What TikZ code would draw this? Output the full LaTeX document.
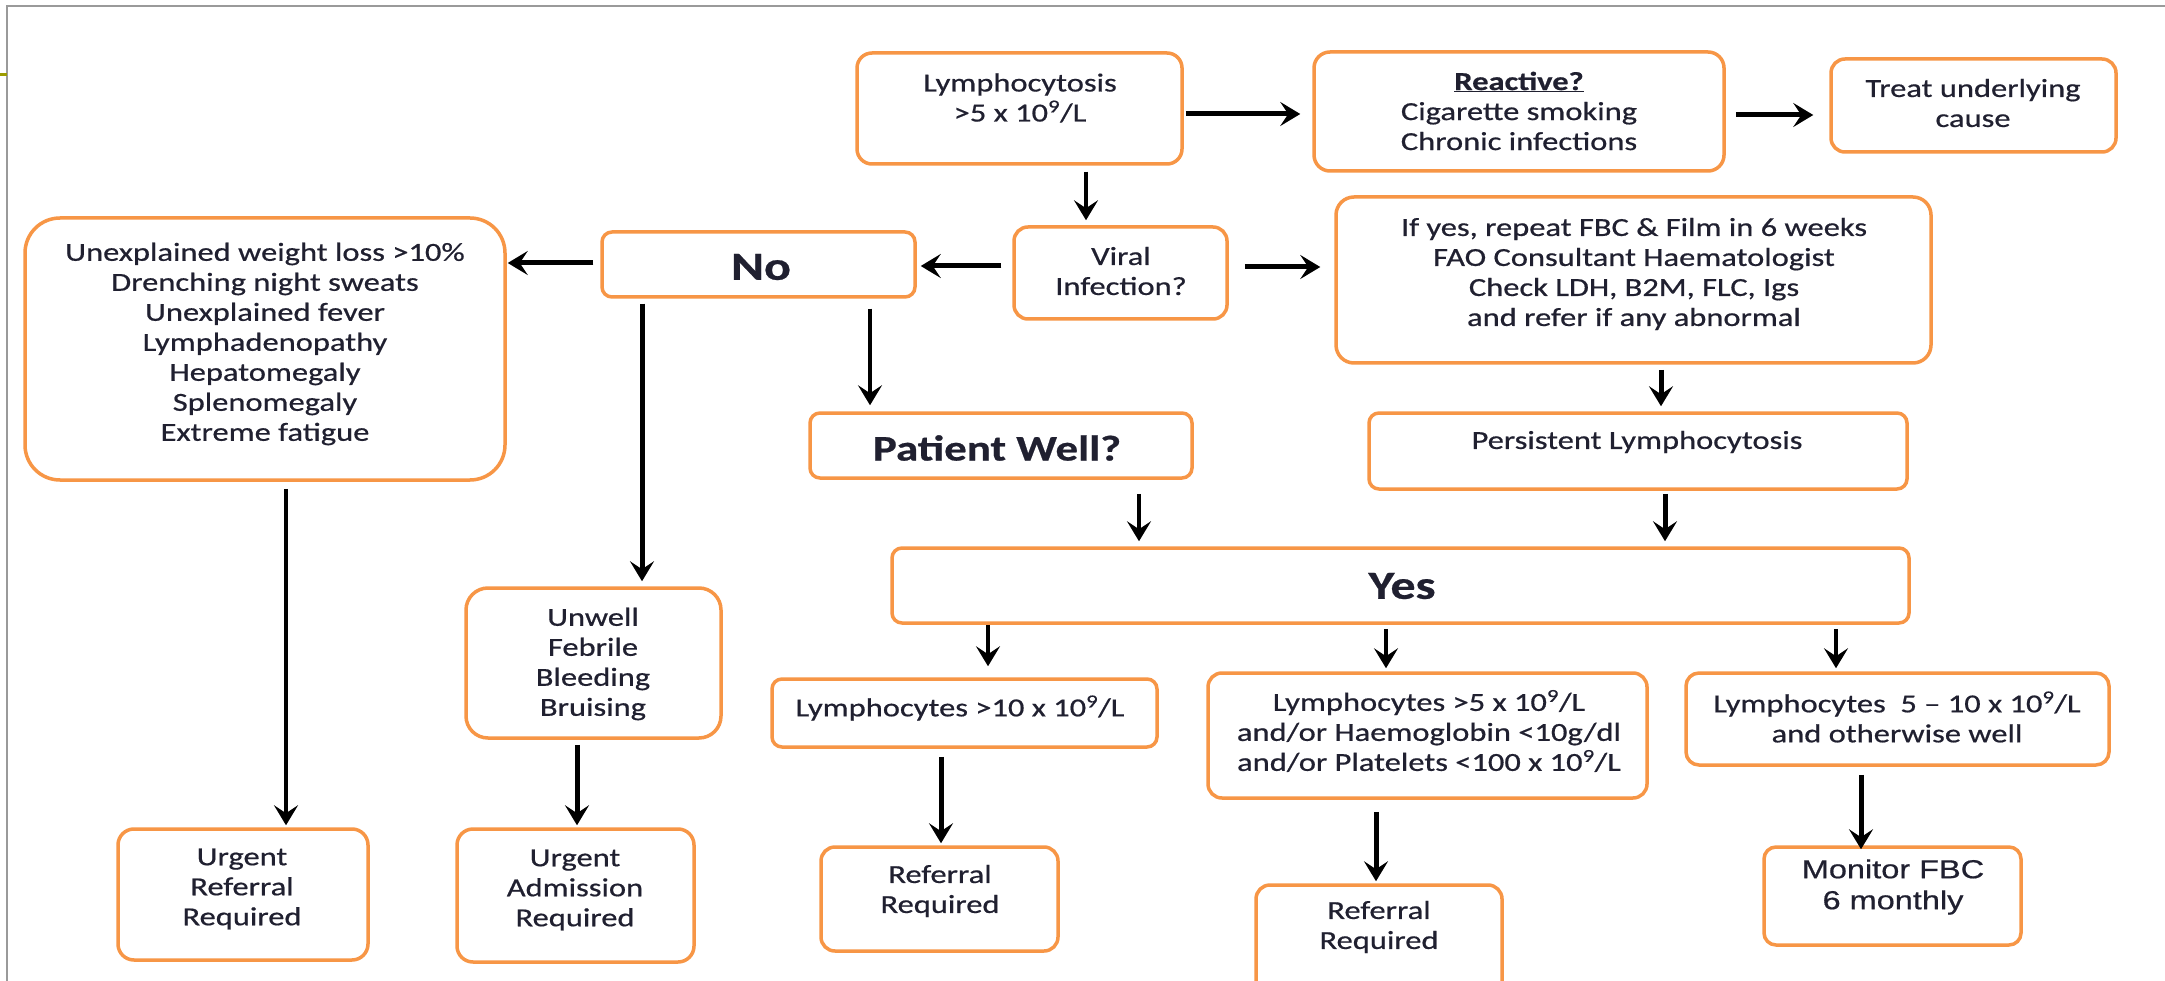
\documentclass[tikz,border=0pt]{standalone}
\usepackage{fontspec}
\setmainfont{Carlito}[FakeStretch=1.25,FakeBold=0.6]
\newfontfamily\arialf{Liberation Sans}[FakeStretch=1.25,FakeBold=0.6]
\usetikzlibrary{arrows.meta}
\definecolor{boxc}{HTML}{F79646}
\definecolor{txtc}{HTML}{202030}
\definecolor{framec}{HTML}{9A9A9A}
\definecolor{olivec}{HTML}{9C9C00}
\tikzset{
  box/.style={draw=boxc, line width=3.5pt, rounded corners=#1pt, inner sep=0pt, fill=white},
  box/.default=14,
  txt/.style={align=center, font=\fontsize{26}{30}\selectfont, text=txtc, inner sep=0pt},
  bigtxt/.style={font=\fontsize{40}{44}\selectfont\bfseries},
  arr/.style={draw=black, line width=5pt, -{Stealth[length=20pt,width=24pt,inset=8pt]}},
  arrthin/.style={line width=3.5pt},
}
\newcommand\fcbox[6]{\node[box=#6, minimum width={#4-#2}, minimum height={#5-#3}] (#1) at ({(#2+#4)/2},{(#3+#5)/2}) {};}
\begin{document}
\begin{tikzpicture}[x=1pt,y=-1pt]
\useasboundingbox (0,0) rectangle (2165,981);
\fill[white] (0,0) rectangle (2165,981);
% frame
\draw[framec, line width=2pt] (7,981) -- (7,6) -- (2165,6);
\draw[olivec, line width=3pt] (0,75) -- (7,75);
% boxes
\fcbox{lym}{857}{53}{1182}{164}{15}
\fcbox{rea}{1314}{52}{1724}{171}{16}
\fcbox{trt}{1831}{59}{2116}{152}{14}
\fcbox{vir}{1014}{227}{1227}{319}{14}
\fcbox{no}{602}{232}{915}{297}{10}
\fcbox{sym}{25}{218}{505}{480}{35}
\fcbox{ify}{1336}{197}{1931}{363}{18}
\fcbox{pw}{810}{413}{1192}{478}{10}
\fcbox{per}{1369}{413}{1907}{489}{10}
\fcbox{yes}{892}{548}{1909}{623}{10}
\fcbox{unw}{466}{588}{721}{738}{22}
\fcbox{lten}{772}{679}{1157}{747}{10}
\fcbox{mid}{1208}{673}{1647}{798}{14}
\fcbox{rgt}{1686}{673}{2109}{765}{13}
\fcbox{urf}{118}{829}{368}{960}{16}
\fcbox{uad}{457}{829}{694}{962}{16}
\fcbox{refa}{821}{847}{1058}{951}{14}
\fcbox{refb}{1256}{885}{1502}{1000}{14}
\fcbox{mon}{1764}{847}{2021}{945}{12}
% texts
\node[txt] (lymT) at (1020,98) {Lymphocytosis\\>5 x 10\textsuperscript{9}/L};
\node[txt] (reaT) at (1519,111) {\underline{\textbf{Reactive?}}\\Cigarette smoking\\Chronic infections};
\node[txt] (trtT) at (1973,103) {Treat underlying\\cause};
\node[txt] (virT) at (1121,271) {Viral\\Infection?};
\node[txt,bigtxt] (noT) at (761,267) {No};
\node[txt] (symT) at (265,344) {Unexplained weight loss >10\%\\Drenching night sweats\\Unexplained fever\\Lymphadenopathy\\Hepatomegaly\\Splenomegaly\\Extreme fatigue};
\node[txt] (ifyT) at (1634,274) {If yes, repeat FBC \& Film in 6 weeks\\FAO Consultant Haematologist\\Check LDH, B2M, FLC, Igs\\and refer if any abnormal};
\node[txt, font=\fontsize{36}{40}\selectfont\bfseries] (pwT) at (997,448) {Patient Well?};
\node[txt] (perT) at (1637,442) {Persistent Lymphocytosis};
\node[txt,bigtxt] (yesT) at (1402,586) {Yes};
\node[txt] (unwT) at (593,664) {Unwell\\Febrile\\Bleeding\\Bruising};
\node[txt] (ltenT) at (960,708) {Lymphocytes >10 x 10\textsuperscript{9}/L};
\node[txt] (midT) at (1429,731) {Lymphocytes >5 x 10\textsuperscript{9}/L\\and/or Haemoglobin <10g/dl\\and/or Platelets <100 x 10\textsuperscript{9}/L};
\node[txt] (rgtT) at (1897,717) {Lymphocytes\ \ 5 -- 10 x 10\textsuperscript{9}/L\\and otherwise well};
\node[txt] (urfT) at (242,889) {Urgent\\Referral\\Required};
\node[txt] (uadT) at (575,890) {Urgent\\Admission\\Required};
\node[txt] (refaT) at (940,891) {Referral\\Required};
\node[txt] (refbT) at (1379,927) {Referral\\Required};
\node[txt, font=\arialf\fontsize{26}{31}\selectfont] (monT) at (1893,887) {Monitor FBC\\6 monthly};
% lanes
\coordinate (ya1) at (0,114);
\coordinate (ya2) at (0,115);
\coordinate (ya4) at (0,266);
\coordinate (ya5) at (0,263);
\coordinate (ya6) at (0,267);
\coordinate (xa3) at (1086,0);
\coordinate (xa7) at (870,0);
\coordinate (xa8) at (642,0);
\coordinate (xa9) at (286,0);
\coordinate (xa10) at (577,0);
\coordinate (xa11) at (1661,0);
\coordinate (xa12) at (1139,0);
\coordinate (xa13) at (1665,0);
\coordinate (xa14) at (988,0);
\coordinate (xa15) at (1386,0);
\coordinate (xa16) at (1836,0);
\coordinate (xa17) at (941,0);
\coordinate (xa18) at (1376,0);
\coordinate (xa19) at (1861,0);
% arrows
\draw[arr, shorten <=2pt, shorten >=12pt] (lym.east |- ya1) -- (rea.west |- ya1);
\draw[arr, shorten <=10pt, shorten >=16pt] (rea.east |- ya2) -- (trt.west |- ya2);
\draw[arr, arrthin, shorten <=6pt, shorten >=5pt] (lym.south -| xa3) -- (vir.north -| xa3);
\draw[arr, shorten <=11pt, shorten >=4pt] (vir.west |- ya4) -- (no.east |- ya4);
\draw[arr, shorten <=7pt, shorten >=1pt] (no.west |- ya5) -- (sym.east |- ya5);
\draw[arr, shorten <=16pt, shorten >=14pt] (vir.east |- ya6) -- (ify.west |- ya6);
\draw[arr, arrthin, shorten <=10pt, shorten >=6pt] (no.south -| xa7) -- (pw.north -| xa7);
\draw[arr, shorten <=5pt, shorten >=5pt] (no.south -| xa8) -- (unw.north -| xa8);
\draw[arr, arrthin, shorten <=7pt, shorten >=2pt] (sym.south -| xa9) -- (urf.north -| xa9);
\draw[arr, shorten <=5pt, shorten >=2pt] (unw.south -| xa10) -- (uad.north -| xa10);
\draw[arr, shorten <=5pt, shorten >=5pt] (ify.south -| xa11) -- (per.north -| xa11);
\draw[arr, arrthin, shorten <=14pt, shorten >=5pt] (pw.south -| xa12) -- (yes.north -| xa12);
\draw[arr, shorten <=3pt, shorten >=5pt] (per.south -| xa13) -- (yes.north -| xa13);
\draw[arr, arrthin, shorten <=0pt, shorten >=11pt] (yes.south -| xa14) -- (lten.north -| xa14);
\draw[arr, arrthin, shorten <=4pt, shorten >=3pt] (yes.south -| xa15) -- (mid.north -| xa15);
\draw[arr, arrthin, shorten <=4pt, shorten >=3pt] (yes.south -| xa16) -- (rgt.north -| xa16);
\draw[arr, shorten <=8pt, shorten >=2pt] (lten.south -| xa17) -- (refa.north -| xa17);
\draw[arr, shorten <=12pt, shorten >=2pt] (mid.south -| xa18) -- (refb.north -| xa18);
\draw[arr, shorten <=8pt, shorten >=-4pt] (rgt.south -| xa19) -- (mon.north -| xa19);
\end{tikzpicture}
\end{document}
